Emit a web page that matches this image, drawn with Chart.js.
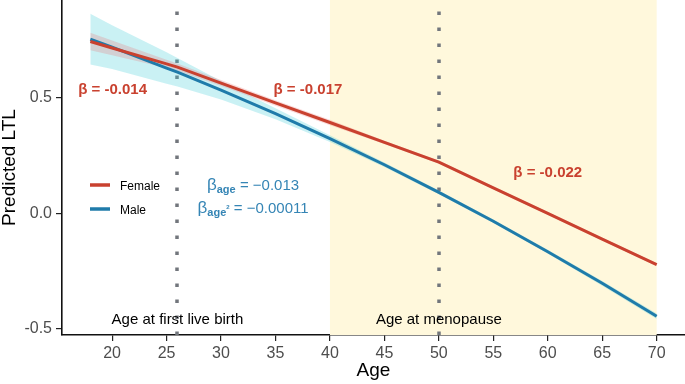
<!DOCTYPE html>
<html>
<head>
<meta charset="utf-8">
<script src="https://cdn.jsdelivr.net/npm/chart.js@4.4.1/dist/chart.umd.min.js"></script>
<style>
  html, body { margin: 0; padding: 0; background: #fff; }
</style>
</head>
<body>
<canvas id="ltl-chart" width="685" height="384"></canvas>
<script>
const ages = [18, 20, 25, 26, 30, 35, 40, 45, 50, 55, 60, 65, 70];

const femaleFit   = [0.745, 0.717, 0.648, 0.634, 0.565, 0.479, 0.394, 0.308, 0.222, 0.111, 0.000, -0.111, -0.222];
const femaleUpper = [0.783, 0.749, 0.666, 0.650, 0.578, 0.491, 0.406, 0.315, 0.228, 0.117, 0.006, -0.105, -0.216];
const femaleLower = [0.707, 0.685, 0.630, 0.618, 0.552, 0.467, 0.382, 0.301, 0.216, 0.105, -0.006, -0.117, -0.228];

const maleFit   = [0.755, 0.721, 0.630, 0.612, 0.534, 0.432, 0.324, 0.211, 0.091, -0.034, -0.166, -0.303, -0.446];
const maleUpper = [0.865, 0.816, 0.698, 0.674, 0.574, 0.456, 0.339, 0.221, 0.099, -0.026, -0.158, -0.293, -0.434];
const maleLower = [0.645, 0.626, 0.562, 0.550, 0.494, 0.408, 0.309, 0.201, 0.083, -0.042, -0.174, -0.313, -0.458];

const xTicks = [20, 25, 30, 35, 40, 45, 50, 55, 60, 65, 70];
const yTicks = [-0.5, 0.0, 0.5];

const menopauseWindow = [40, 70];
const eventAges = [26, 50];

const RED = '#C9412F';
const BLUE = '#1F7BAA';
const BLUE_TEXT = '#3585B5';
const FONT = '"Liberation Sans", Arial, Helvetica, sans-serif';

Chart.defaults.font.family = FONT;

function pts(ys) {
    return ages.map((a, i) => ({ x: a, y: ys[i] }));
}

// text labels placed in data units (baseline positions)
const slopeLabels = [
    { text: 'β = -0.014', x: 20.05, y: 0.519 },
    { text: 'β = -0.017', x: 37.98, y: 0.519 },
    { text: 'β = -0.022', x: 60.0, y: 0.157 }
];
const eventLabels = [
    { text: 'Age at first live birth', x: 26, y: -0.478 },
    { text: 'Age at menopause', x: 50, y: -0.478 }
];

function fnt(size, bold) {
    return (bold ? 'bold ' : '') + size + 'px ' + FONT;
}

// draws a run of pieces (sub/superscripts) centred on cx, baseline by
function drawPieces(ctx, pieces, cx, by) {
    let total = 0;
    pieces.forEach(p => {
        ctx.font = fnt(p.size, p.bold);
        p.w = ctx.measureText(p.text).width;
        total += p.w;
    });
    let px = cx - total / 2;
    pieces.forEach(p => {
        ctx.font = fnt(p.size, p.bold);
        ctx.fillText(p.text, px, by + (p.dy || 0));
        px += p.w;
    });
}

const backdrop = {
    id: 'backdrop',
    beforeDatasetsDraw(chart) {
        const { ctx, chartArea, scales: { x } } = chart;
        const x0 = x.getPixelForValue(menopauseWindow[0]);
        const x1 = x.getPixelForValue(menopauseWindow[1]);
        ctx.save();
        ctx.fillStyle = '#FFF8DC';
        ctx.fillRect(x0, chartArea.top, x1 - x0, chartArea.bottom - chartArea.top);
        ctx.strokeStyle = '#72767C';
        ctx.lineWidth = 3.5;
        ctx.setLineDash([3.5, 12.5]);
        eventAges.forEach(a => {
            const px = Math.round(x.getPixelForValue(a));
            ctx.beginPath();
            ctx.moveTo(px, chartArea.bottom);
            ctx.lineTo(px, chartArea.top);
            ctx.stroke();
        });
        ctx.restore();
    }
};

const labels = {
    id: 'labels',
    afterDatasetsDraw(chart) {
        const { ctx, scales: { x, y } } = chart;
        ctx.save();
        ctx.textBaseline = 'alphabetic';
        ctx.textAlign = 'center';
        ctx.fillStyle = RED;
        ctx.font = fnt(15, true);
        slopeLabels.forEach(l => ctx.fillText(l.text, x.getPixelForValue(l.x), y.getPixelForValue(l.y)));

        ctx.fillStyle = '#000';
        ctx.font = fnt(15, false);
        eventLabels.forEach(l => ctx.fillText(l.text, x.getPixelForValue(l.x), y.getPixelForValue(l.y)));

        // male quadratic coefficients
        ctx.textAlign = 'left';
        ctx.fillStyle = BLUE_TEXT;
        const cx = x.getPixelForValue(32.94);
        drawPieces(ctx, [
            { text: 'β', size: 17 },
            { text: 'age', size: 11, bold: true, dy: 3 },
            { text: ' = −0.013', size: 15 }
        ], cx, y.getPixelForValue(0.103));
        drawPieces(ctx, [
            { text: 'β', size: 17 },
            { text: 'age', size: 11, bold: true, dy: 3 },
            { text: '2', size: 6, bold: true, dy: -4 },
            { text: ' = −0.00011', size: 15 }
        ], cx, y.getPixelForValue(0.001));

        // legend
        const entries = [['Female', RED], ['Male', BLUE]];
        entries.forEach((e, i) => {
            const ly = 185 + i * 24;
            ctx.strokeStyle = e[1];
            ctx.lineWidth = 3.5;
            ctx.beginPath();
            ctx.moveTo(90, ly);
            ctx.lineTo(110, ly);
            ctx.stroke();
            ctx.fillStyle = '#000';
            ctx.font = fnt(12, false);
            ctx.fillText(e[0], 120, ly + 4.5);
        });
        ctx.restore();
    }
};

const band = (data, fill, color, order) => ({
    data: pts(data),
    fill: fill,
    backgroundColor: color,
    borderWidth: 0,
    pointRadius: 0,
    order: order
});

new Chart(document.getElementById('ltl-chart').getContext('2d'), {
    type: 'line',
    data: {
        datasets: [
            band(maleUpper, false, 'rgba(0,0,0,0)', 4),
            band(maleLower, '-1', 'rgba(64,205,215,0.28)', 4),
            band(femaleUpper, false, 'rgba(0,0,0,0)', 3),
            band(femaleLower, '-1', 'rgba(235,110,110,0.25)', 3),
            {
                label: 'Male',
                data: pts(maleFit),
                borderColor: BLUE,
                borderWidth: 3,
                pointRadius: 0,
                fill: false,
                order: 1
            },
            {
                label: 'Female',
                data: pts(femaleFit),
                borderColor: RED,
                borderWidth: 3,
                pointRadius: 0,
                fill: false,
                order: 0
            }
        ]
    },
    options: {
        responsive: false,
        animation: false,
        events: [],
        layout: { padding: 0 },
        plugins: {
            legend: { display: false },
            tooltip: { enabled: false }
        },
        scales: {
            x: {
                type: 'linear',
                min: 15.4,
                max: 72.6,
                afterBuildTicks: s => { s.ticks = xTicks.map(v => ({ value: v })); },
                afterFit: s => { s.height = 49; s.paddingLeft = 0; s.paddingRight = 0; },
                grid: { drawOnChartArea: false, drawTicks: true, tickLength: 6, color: '#222', lineWidth: 1.2 },
                border: { display: true, color: '#111', width: 1.6 },
                ticks: { color: '#4D4D4D', font: { size: 16 }, padding: 3, maxRotation: 0 },
                title: { display: true, text: 'Age', color: '#000', font: { size: 19, lineHeight: 1 }, padding: { top: 0, bottom: 4 } }
            },
            y: {
                min: -0.527,
                max: 0.925,
                afterBuildTicks: s => { s.ticks = yTicks.map(v => ({ value: v })); },
                afterFit: s => { s.width = 62; s.paddingTop = 0; s.paddingBottom = 0; },
                grid: { drawOnChartArea: false, drawTicks: true, tickLength: 6, color: '#222', lineWidth: 1.2 },
                border: { display: true, color: '#111', width: 1.6 },
                ticks: { color: '#4D4D4D', font: { size: 16 }, padding: 4, callback: v => v.toFixed(1) },
                title: { display: true, text: 'Predicted LTL', color: '#000', font: { size: 19, lineHeight: 1 }, padding: 0 }
            }
        }
    },
    plugins: [backdrop, labels]
});
</script>
</body>
</html>
